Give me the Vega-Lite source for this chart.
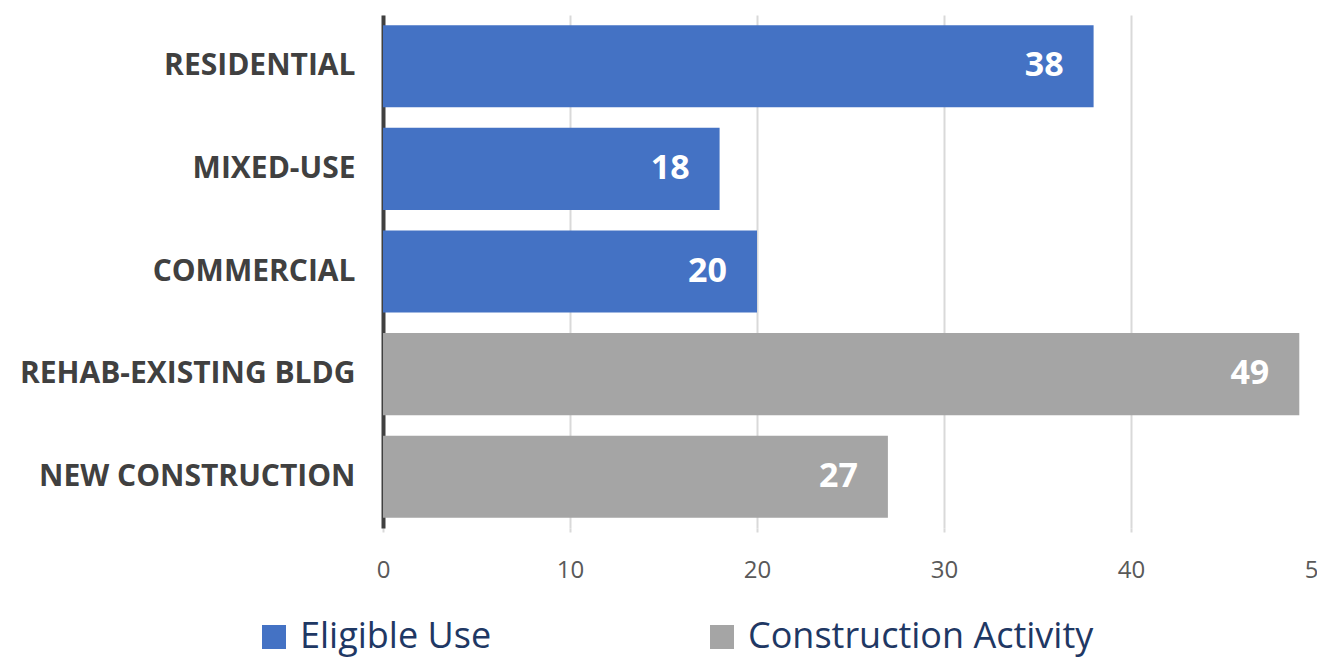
{
  "$schema": "https://vega.github.io/schema/vega-lite/v6.json",
  "autosize": "none",
  "width": 935,
  "height": 513,
  "padding": {"left": 383, "top": 15, "right": 0, "bottom": 130},
  "background": "white",
  "config": {"view": {"stroke": null}, "font": "Open Sans"},
  "data": {"values": [
    {"category": "RESIDENTIAL", "value": 38, "group": "Eligible Use"},
    {"category": "MIXED-USE", "value": 18, "group": "Eligible Use"},
    {"category": "COMMERCIAL", "value": 20, "group": "Eligible Use"},
    {"category": "REHAB-EXISTING BLDG", "value": 49, "group": "Construction Activity"},
    {"category": "NEW CONSTRUCTION", "value": 27, "group": "Construction Activity"}
  ]},
  "encoding": {
    "y": {
      "field": "category", "type": "nominal",
      "sort": ["RESIDENTIAL", "MIXED-USE", "COMMERCIAL", "REHAB-EXISTING BLDG", "NEW CONSTRUCTION"],
      "scale": {"paddingInner": 0.2, "paddingOuter": 0.1},
      "axis": {
        "title": null, "ticks": false, "domainColor": "#404040", "domainWidth": 4,
        "labelFont": "Open Sans", "labelFontWeight": "bold", "labelFontSize": 30,
        "labelColor": "#404040", "labelPadding": 28, "labelLimit": 500
      }
    },
    "x": {
      "field": "value", "type": "quantitative",
      "scale": {"domain": [0, 50], "nice": false},
      "axis": {
        "title": null, "values": [0, 10, 20, 30, 40, 50], "domain": false,
        "grid": true, "gridColor": "#d9d9d9", "gridWidth": 2,
        "tickColor": "#d9d9d9", "tickWidth": 2, "tickSize": 4,
        "labelFontSize": 24, "labelColor": "#595959", "labelPadding": 26,
        "labelFont": "Open Sans", "labelFlush": false, "labelOverlap": false, "labelBound": false
      }
    }
  },
  "layer": [
    {
      "mark": {"type": "bar"},
      "encoding": {
        "color": {
          "field": "group", "type": "nominal",
          "scale": {"domain": ["Eligible Use", "Construction Activity"], "range": ["#4472C4", "#A5A5A5"]},
          "legend": {
            "title": null, "orient": "none", "direction": "horizontal",
            "legendX": -127, "legendY": 604, "padding": 0,
            "symbolType": "square", "symbolSize": 576, "symbolStrokeWidth": 0,
            "symbolOpacity": 1,
            "labelFontSize": 36, "labelColor": "#1F3864", "labelFont": "Open Sans",
            "labelOffset": 8, "columnPadding": 212, "labelLimit": 600
          }
        }
      }
    },
    {
      "mark": {"type": "text", "align": "right", "baseline": "middle", "dx": -30, "color": "white", "fontWeight": "bold", "fontSize": 34, "font": "Open Sans"},
      "encoding": {"text": {"field": "value", "type": "quantitative"}}
    }
  ]
}
